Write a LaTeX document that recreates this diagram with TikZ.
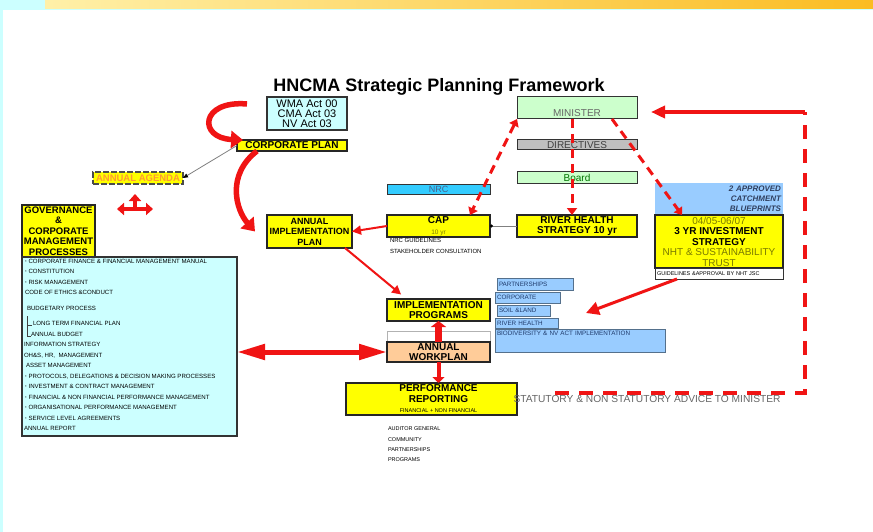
\documentclass[tikz,border=0pt]{standalone}
\usepackage{fontspec}
\setmainfont{Liberation Sans}
\usetikzlibrary{arrows.meta}

\definecolor{boxyellow}{HTML}{FFFF00}
\definecolor{listcyan}{HTML}{CCFFFF}
\definecolor{nrcblue}{HTML}{33CCFF}
\definecolor{nrctext}{HTML}{4A5F8A}
\definecolor{paleblue}{HTML}{99CCFF}
\definecolor{palegreen}{HTML}{CCFFCC}
\definecolor{peach}{HTML}{FFCC99}
\definecolor{arrowred}{HTML}{F01414}
\definecolor{darkolive}{HTML}{7A7A00}
\definecolor{navytext}{HTML}{1F3A6B}
\definecolor{slatetext}{HTML}{2F3F5F}
\definecolor{agendaorange}{HTML}{FF9933}
\definecolor{streaklight}{HTML}{FFF0A8}
\definecolor{streakgold}{HTML}{FBBC22}

\newcommand{\fsz}[2]{\fontsize{#1}{#2}\selectfont}
\newcommand{\listmark}{{\fsz{4}{4}*}\hspace{2pt}}

\begin{document}
\begin{tikzpicture}[x=1pt, y=-1pt,
    every node/.style={inner sep=0pt, outer sep=0pt, align=center},
    yellowbox/.style={draw=black!85, line width=1.2pt, fill=boxyellow,
        font=\bfseries\fsz{10}{10.5}},
    greenbox/.style={draw=black!80, line width=1pt, fill=palegreen,
        minimum width=120pt, font=\fsz{10}{10}},
    cyanbox/.style={draw=black!80, line width=1.1pt, fill=listcyan},
    bluebox/.style={draw=black!45!paleblue, line width=0.8pt, fill=paleblue,
        text=navytext, font=\fsz{6.3}{7}, align=left, inner xsep=2pt},
    notes/.style={font=\fsz{6}{10.5}, align=left, anchor=north west},
    redarrow/.style={draw=arrowred, line width=2pt,
        -{Triangle[width=9pt,length=9pt]}},
    reddash/.style={draw=arrowred, line width=3pt, dash pattern=on 9pt off 6pt,
        >={Triangle[width=10pt,length=7pt]}},
    curvearrow/.style={draw=arrowred, line width=5.5pt,
        -{Triangle[width=17pt,length=12pt]}},
    triarrow/.style={draw=arrowred, line width=4pt,
        -{Triangle[width=12pt,length=7pt]}}
    ]
    \fill[listcyan] (0,0) rectangle (873,532);
    \fill[white] (3,10) rectangle (873,532);
    \shade[left color=streaklight, right color=streakgold] (45,0) rectangle (873,9);
    \useasboundingbox (0,0) rectangle (873,532);

    \node[font=\bfseries\fsz{18}{20}] (title) at (439,87) {HNCMA Strategic Planning Framework};

    \node[cyanbox, minimum width=80pt, minimum height=33pt, font=\fsz{11}{10}] (acts) at (307,113.5)
        {WMA Act 00\\CMA Act 03\\NV Act 03};
    \node[yellowbox, minimum width=110pt, minimum height=11pt] (corp) at (292,145.5) {CORPORATE PLAN};
    \node[yellowbox, draw=black!70, dash pattern=on 6pt off 2pt, line width=1.5pt, text=agendaorange,
        minimum width=90pt, minimum height=12pt, font=\bfseries\fsz{9.5}{10}] (agenda) at (138,178) {ANNUAL AGENDA};
    \node[yellowbox, minimum width=73pt, minimum height=52pt, font=\bfseries\fsz{9.5}{10.4}] (gov) at (58.5,231)
        {GOVERNANCE\\\&\\CORPORATE\\MANAGEMENT\\PROCESSES};
    \node[cyanbox, anchor=north west, inner sep=2pt] (list) at (22,257) {\parbox[t][175pt][t]{211pt}{\fsz{6.1}{10.5}\raggedright
        \hspace*{1pt}\listmark CORPORATE FINANCE \& FINANCIAL MANAGEMENT MANUAL\\
        \hspace*{1pt}\listmark CONSTITUTION\\
        \hspace*{1pt}\listmark RISK MANAGEMENT\\
        \hspace*{1pt}CODE OF ETHICS \&CONDUCT\\[5.5pt]
        \hspace*{3pt}BUDGETARY PROCESS\\[4.5pt]
        \hspace*{9pt}LONG TERM FINANCIAL PLAN\\
        \hspace*{7pt}ANNUAL BUDGET\\
        INFORMATION STRATEGY\\
        OH\&S, HR,\ \ MANAGEMENT\\
        \hspace*{2pt}ASSET MANAGEMENT\\
        \hspace*{1pt}\listmark PROTOCOLS, DELEGATIONS \& DECISION MAKING PROCESSES\\
        \hspace*{1pt}\listmark INVESTMENT \& CONTRACT MANAGEMENT\\
        \hspace*{1pt}\listmark FINANCIAL \& NON FINANCIAL PERFORMANCE MANAGEMENT\\
        \hspace*{1pt}\listmark ORGANISATIONAL PERFORMANCE MANAGEMENT\\
        \hspace*{1pt}\listmark SERVICE LEVEL AGREEMENTS\\
        ANNUAL REPORT}};
    \draw[black!75, line width=0.5pt] (27,316) -- (27,336) -- (31,336) (27,325) -- (32,325);

    \node[yellowbox, minimum width=85pt, minimum height=33pt, font=\bfseries\fsz{9}{10.5}] (aip) at (309.5,231.5)
        {ANNUAL\\IMPLEMENTATION\\PLAN};
    \node[draw=black!80, line width=1pt, fill=nrcblue, text=nrctext, font=\fsz{9}{9},
        minimum width=103pt, minimum height=10pt] (nrc) at (438.5,189) {NRC};
    \node[yellowbox, minimum width=103pt, minimum height=22pt] (cap) at (438.5,226)
        {CAP\\{\mdseries\fsz{6.5}{7}\color{darkolive}10 yr}};
    \node[notes] (capnotes) at (390,238.5) {NRC GUIDELINES\\STAKEHOLDER CONSULTATION};

    \node[greenbox, minimum height=22pt, text height=20pt, text depth=2pt, text=black!60] (minister) at (577,108) {MINISTER};
    \node[greenbox, fill=black!25, minimum height=10pt, text=black!75] (directives) at (577,145) {DIRECTIVES};
    \node[greenbox, minimum height=11pt, text=green!45!black] (board) at (577,177.5) {Board};
    \node[yellowbox, minimum width=120pt, minimum height=22pt] (river) at (577,226) {RIVER HEALTH\\STRATEGY 10 yr};

    \node[fill=paleblue, minimum width=128pt, minimum height=32pt, text width=124pt, align=right,
        font=\bfseries\itshape\fsz{8}{10}, text=slatetext] (blueprints) at (719,199) {2 APPROVED\\CATCHMENT\\BLUEPRINTS};
    \node[yellowbox, minimum width=128pt, minimum height=53pt] (invest) at (719,241.5)
        {{\mdseries\color{darkolive}04/05-06/07}\\3 YR INVESTMENT\\STRATEGY\\
         {\mdseries\color{darkolive}NHT \& SUSTAINABILITY}\\{\mdseries\color{darkolive}TRUST}};
    \node[draw=black!80, line width=1pt, fill=white, minimum width=128pt, minimum height=11pt,
        text width=124pt, align=left, font=\fsz{5.5}{6}] (guide) at (719,273.5) {GUIDELINES \&APPROVAL BY NHT JSC};

    \node[yellowbox, minimum width=103pt, minimum height=22pt] (programs) at (438.5,310) {IMPLEMENTATION\\PROGRAMS};
    \node[draw=black!30, line width=0.8pt, fill=white, minimum width=103pt, minimum height=11pt] (blank) at (438.5,336.5) {};
    \node[yellowbox, fill=peach, minimum width=103pt, minimum height=20pt] (workplan) at (438.5,352) {ANNUAL\\WORKPLAN};
    \node[yellowbox, minimum width=171pt, minimum height=32pt] (perf) at (431.5,399)
        {\hspace*{14pt}PERFORMANCE\\\hspace*{14pt}REPORTING\\{\mdseries\fsz{5.5}{6}\hspace*{14pt}FINANCIAL + NON FINANCIAL}};
    \node[notes, font=\fsz{5.5}{10.3}] (perflist) at (388,427) {AUDITOR GENERAL\\COMMUNITY\\PARTNERSHIPS\\PROGRAMS};
    \node[font=\fsz{10.2}{10}, text=black!60] (advice) at (647,399) {STATUTORY \& NON STATUTORY ADVICE TO MINISTER};

    \node[bluebox, minimum width=76pt, minimum height=12pt, text width=72pt] (bpart) at (535,284) {PARTNERSHIPS};
    \node[bluebox, minimum width=65pt, minimum height=11pt, text width=61pt] (bcorp) at (527.5,297.5) {CORPORATE};
    \node[bluebox, minimum width=53pt, minimum height=11pt, text width=49pt] (bsoil) at (523.5,310.5) {SOIL \&LAND};
    \node[bluebox, minimum width=63pt, minimum height=10pt, text width=59pt] (briver) at (526.5,323) {RIVER HEALTH};
    \node[bluebox, minimum width=170pt, minimum height=23pt, text width=166pt, text height=5pt, text depth=15pt]
        (bbio) at (580,340.5) {BIODIVERSITY \& NV ACT IMPLEMENTATION};

    \coordinate (loopstart) at (247,104);
    \coordinate (hub) at (135,209);
    \coordinate (blueset) at (586,313);
    \coordinate (advicestart) at (555,393);
    \coordinate (returncorner) at (805,112);

    \draw[curvearrow] (loopstart) .. controls (200,100) and (198,138) .. ([xshift=6pt]corp.north west);
    \draw[curvearrow] ([xshift=20pt]corp.south west) .. controls (226,175) and (236,210) .. ([xshift=-12pt]aip.west);
    \draw[gray, line width=0.8pt, -{Triangle[width=4pt,length=5pt,black]}] (corp.west) -- (agenda.east);
    \draw[triarrow] (hub) -- ++(0,-15);
    \draw[triarrow] (hub) -- ++(-18,0);
    \draw[triarrow] (hub) -- ++(18,0);

    \draw[redarrow] (cap.west) -- (aip.east);
    \draw[redarrow, shorten >=7pt] ([xshift=-7pt]aip.south east) -- ([xshift=-32pt]programs.north);
    \draw[gray, line width=0.8pt, {Circle[length=3pt,black]}-] (cap.east) -- (river.west);

    \draw[reddash, <->] (minister.south west) -- ([xshift=-20pt]cap.north east);
    \draw[reddash, ->] ([xshift=-5pt]minister.south) -- ([xshift=-5pt]river.north);
    \draw[reddash, ->] ([xshift=35pt]minister.south) -- ([xshift=27pt]invest.north west);

    \draw[draw=arrowred, line width=3pt, -{Triangle[width=13pt,length=13pt]}] ([xshift=22pt]guide.south west) -- (blueset);
    \draw[draw=arrowred, line width=4pt, dash pattern=on 14pt off 10pt] (advicestart) -| (returncorner);
    \draw[draw=arrowred, line width=3.5pt, shorten >=14pt, -{Triangle[width=12pt,length=14pt]}]
        (returncorner) -- (minister.east |- returncorner);

    \draw[draw=arrowred, line width=5pt, {Triangle[width=15pt,length=28pt]}-{Triangle[width=15pt,length=28pt]}]
        (list.east |- workplan.west) -- (workplan.west);
    \draw[draw=arrowred, line width=7pt, -{Triangle[width=15pt,length=6pt]}] (workplan.north) -- (programs.south);
    \draw[draw=arrowred, line width=4pt, -{Triangle[width=12pt,length=6pt]}] (workplan.south) -- (workplan.south |- perf.north);
\end{tikzpicture}
\end{document}
